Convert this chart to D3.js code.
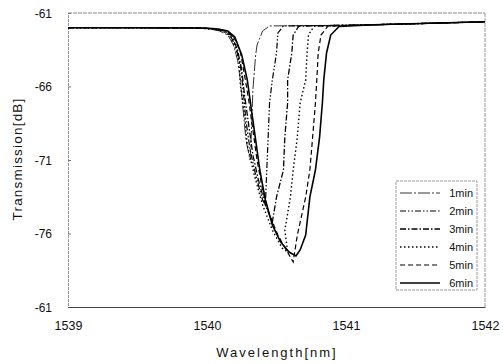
<!DOCTYPE html>
<html>
<head>
<meta charset="utf-8">
<script src="https://cdn.jsdelivr.net/npm/d3@7"></script>
<style>
  body { margin: 0; background: #fff; }
  text { font-family: "Liberation Sans", Arial, sans-serif; fill: #111; }
</style>
</head>
<body>
<svg id="chart" width="503" height="364"></svg>
<script>
// series: [wavelength nm, transmission dB]
var series_names = ["1min", "2min", "3min", "4min", "5min", "6min"];

var min1 = [[1539.0,-62.0],[1539.5,-62.0],[1539.91,-62.02],[1540.02,-62.09],[1540.09,-62.22],[1540.15,-62.5],
  [1540.19,-63.18],[1540.22,-64.2],[1540.24,-65.56],[1540.26,-67.6],[1540.28,-69.64],[1540.31,-71.0],
  [1540.32,-68.96],[1540.33,-66.24],[1540.35,-63.86],[1540.36,-63.18],[1540.40,-62.22],[1540.45,-61.88],
  [1540.8,-61.85],[1541.2,-61.8],[1541.6,-61.7],[1542.0,-61.6]];
var min2 = [[1539.0,-62.0],[1539.5,-62.0],[1539.95,-62.02],[1540.04,-62.09],[1540.12,-62.22],[1540.17,-62.56],
  [1540.21,-63.38],[1540.24,-64.54],[1540.26,-66.24],[1540.28,-68.28],[1540.31,-70.32],[1540.35,-72.02],
  [1540.40,-73.72],[1540.42,-74.06],[1540.43,-71.68],[1540.44,-69.44],[1540.45,-67.12],[1540.47,-65.56],
  [1540.50,-63.72],[1540.51,-62.36],[1540.55,-61.88],[1540.9,-61.85],[1541.2,-61.8],[1541.6,-61.7],[1542.0,-61.6]];
var min3 = [[1539.0,-62.0],[1539.5,-62.0],[1539.96,-62.02],[1540.06,-62.09],[1540.13,-62.22],[1540.18,-62.56],
  [1540.22,-63.52],[1540.25,-64.88],[1540.27,-66.58],[1540.30,-68.62],[1540.33,-70.66],[1540.37,-72.36],
  [1540.42,-74.06],[1540.47,-75.22],[1540.50,-73.52],[1540.55,-71.68],[1540.56,-69.44],[1540.58,-67.12],
  [1540.58,-65.56],[1540.61,-63.72],[1540.62,-62.5],[1540.66,-61.9],[1541.2,-61.8],[1541.6,-61.7],[1542.0,-61.6]];
var min4 = [[1539.0,-62.0],[1539.5,-62.0],[1539.94,-62.02],[1540.04,-62.09],[1540.11,-62.22],[1540.16,-62.5],
  [1540.20,-63.24],[1540.23,-64.33],[1540.24,-65.9],[1540.27,-67.94],[1540.29,-69.98],[1540.34,-72.02],
  [1540.40,-74.06],[1540.47,-75.76],[1540.54,-76.99],[1540.58,-77.26],[1540.56,-75.76],[1540.60,-73.52],
  [1540.62,-71.68],[1540.65,-69.44],[1540.67,-67.12],[1540.71,-65.56],[1540.72,-63.72],[1540.73,-62.5],
  [1540.77,-61.9],[1541.2,-61.8],[1541.6,-61.7],[1542.0,-61.6]];
var min5 = [[1539.0,-62.0],[1539.5,-62.0],[1539.97,-62.02],[1540.06,-62.09],[1540.14,-62.22],[1540.19,-62.56],
  [1540.24,-63.65],[1540.27,-65.22],[1540.30,-66.92],[1540.33,-68.96],[1540.36,-71.0],[1540.40,-73.04],
  [1540.45,-74.74],[1540.51,-76.1],[1540.57,-77.12],[1540.62,-77.94],[1540.65,-76.1],[1540.71,-73.52],
  [1540.74,-71.68],[1540.76,-69.44],[1540.78,-67.12],[1540.79,-65.56],[1540.80,-63.72],[1540.82,-62.5],
  [1540.87,-61.9],[1541.2,-61.8],[1541.6,-61.7],[1542.0,-61.6]];
var min6 = [[1539.0,-62.0],[1539.5,-62.0],[1539.99,-62.02],[1540.08,-62.09],[1540.15,-62.22],[1540.20,-62.63],
  [1540.25,-63.86],[1540.29,-65.56],[1540.32,-67.6],[1540.35,-69.64],[1540.38,-71.68],[1540.42,-73.72],
  [1540.47,-75.42],[1540.53,-76.58],[1540.59,-77.26],[1540.64,-77.53],[1540.67,-77.12],[1540.71,-76.1],
  [1540.74,-73.52],[1540.78,-71.68],[1540.81,-69.44],[1540.83,-67.12],[1540.84,-65.56],[1540.86,-63.72],
  [1540.89,-62.5],[1540.95,-61.92],[1541.2,-61.8],[1541.6,-61.7],[1542.0,-61.6]];

var x_ticks = [1539, 1540, 1541, 1542];
var y_ticks = [-61, -66, -71, -76, -81];
var y_tick_labels = ["-61", "-66", "-71", "-76", "-61"];  // as printed in the figure

var all_series = [min1, min2, min3, min4, min5, min6];
var dashes = ["12,2,2,2", "6,2,1.5,2,1.5,2", "6,2,1.5,2", "1.5,2.5", "5,3", null];
var widths = [0.8, 1.2, 1.3, 1.4, 1.2, 1.6];

var svg = d3.select("#chart");
var m_left = 68, m_right = 485, m_top = 13, m_bottom = 307;

var x = d3.scaleLinear().domain([1539, 1542]).range([m_left, m_right]);
var y = d3.scaleLinear().domain([-61, -81]).range([m_top, m_bottom]);

// frame (scanned look: faint dotted on three sides)
svg.append("line").attr("x1", m_left).attr("x2", m_right).attr("y1", m_top).attr("y2", m_top)
  .style("stroke", "#888").style("stroke-width", 1).style("stroke-dasharray", "4,1");
svg.append("line").attr("x1", m_right).attr("x2", m_right).attr("y1", m_top).attr("y2", m_bottom)
  .style("stroke", "#999").style("stroke-width", 1).style("stroke-dasharray", "4,1");

// y axis: ticks pointing into plot
var yAxis = svg.append("g").attr("transform", "translate(" + m_left + ",0)")
  .call(d3.axisRight(y).tickValues(y_ticks).tickSize(3)
    .tickFormat(function(d, i) { return y_tick_labels[i]; }));
yAxis.select(".domain").style("stroke", "#999").style("stroke-dasharray", "3,1");
yAxis.selectAll(".tick line").style("stroke", "#777");
yAxis.selectAll(".tick text").attr("x", -16).attr("dy", "0.35em")
  .style("text-anchor", "end").style("font-size", "12px");

// x axis
var xAxis = svg.append("g").attr("transform", "translate(0," + m_bottom + ")")
  .call(d3.axisBottom(x).tickValues(x_ticks).tickSize(0).tickFormat(d3.format("d")));
xAxis.select(".domain").style("stroke", "#444");
xAxis.selectAll(".tick text").attr("y", 14).attr("dy", "0.71em").style("font-size", "12.5px");

// curves
var line = d3.line().x(function(d) { return x(d[0]); }).y(function(d) { return y(d[1]); });
svg.selectAll(".curve").data(all_series).enter().append("path")
  .attr("class", "curve")
  .attr("d", line)
  .style("fill", "none")
  .style("stroke", "#000")
  .style("stroke-width", function(d, i) { return widths[i]; })
  .style("stroke-dasharray", function(d, i) { return dashes[i]; });

// legend
var lg = svg.append("g");
lg.append("rect").attr("x", 396).attr("y", 181).attr("width", 81).attr("height", 109)
  .style("fill", "#fff").style("stroke", "#999").style("stroke-width", 1).style("stroke-dasharray", "3,1");
series_names.forEach(function(name, i) {
  var yy = 193 + i * 18;
  lg.append("line").attr("x1", 400).attr("x2", 440).attr("y1", yy).attr("y2", yy)
    .style("stroke", "#000").style("stroke-width", widths[i]).style("stroke-dasharray", dashes[i]);
  lg.append("text").attr("x", 473).attr("y", yy).attr("dy", "0.35em")
    .style("text-anchor", "end").style("font-size", "11px").text(name);
});

// axis titles
svg.append("text").attr("x", 277).attr("y", 357).style("text-anchor", "middle")
  .style("font-size", "13px").style("letter-spacing", "2px").text("Wavelength[nm]");
svg.append("text").attr("transform", "translate(22,159) rotate(-90)").style("text-anchor", "middle")
  .style("font-size", "13.5px").style("letter-spacing", "1.2px").text("Transmission[dB]");
</script>
</body>
</html>
